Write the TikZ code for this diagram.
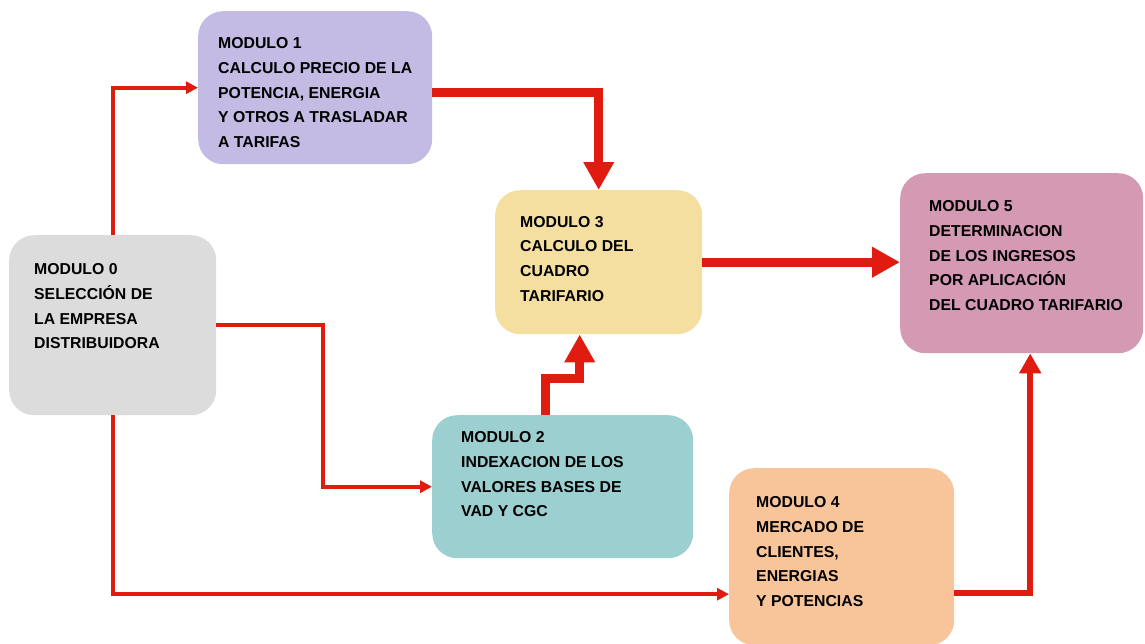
\documentclass[tikz,border=0pt]{standalone}
\usepackage{fontspec}
\setmainfont{Liberation Sans}
\usetikzlibrary{arrows.meta}
\definecolor{lineRed}{RGB}{224,28,16}
\definecolor{cM0}{RGB}{220,220,220}
\definecolor{cM1}{RGB}{195,187,227}
\definecolor{cM2}{RGB}{155,207,208}
\definecolor{cM3}{RGB}{245,223,160}
\definecolor{cM4}{RGB}{248,196,154}
\definecolor{cM5}{RGB}{212,154,179}
\begin{document}
\begin{tikzpicture}[x=1pt,y=-1pt,
  box/.style={rounded corners=25pt, inner sep=0pt, anchor=north west, draw=none},
  txt/.style={anchor=north west, inner sep=0pt, align=left,
              font=\fontsize{15.8}{24.7}\selectfont\bfseries},
  thinarrow/.style={draw=lineRed, line width=4pt, -{Triangle[length=12pt,width=12pt]}},
  thickarrow/.style={draw=lineRed, line width=9pt, -{Triangle[length=28pt,width=29pt]}},
  midarrow/.style={draw=lineRed, line width=6.5pt, -{Triangle[length=20pt,width=21pt]}}]
\useasboundingbox (0,0) rectangle (1145,643);
% boxes
\node[box, fill=cM0, minimum width=207pt, minimum height=180pt] (m0) at (9,235) {};
\node[box, fill=cM1, minimum width=234pt, minimum height=153pt] (m1) at (198,11) {};
\node[box, fill=cM3, minimum width=207pt, minimum height=144pt] (m3) at (495,190) {};
\node[box, fill=cM2, minimum width=261pt, minimum height=143pt] (m2) at (432,415) {};
\node[box, fill=cM4, minimum width=225pt, minimum height=177pt] (m4) at (729,468) {};
\node[box, fill=cM5, minimum width=243pt, minimum height=180pt] (m5) at (900,173) {};
% texts
\node[txt] (t0) at (34,263.4) {MODULO 0\\SELECCIÓN DE\\LA EMPRESA\\DISTRIBUIDORA};
\node[txt] (t1) at (218,37.4) {MODULO 1\\CALCULO PRECIO DE LA\\POTENCIA, ENERGIA\\Y OTROS A TRASLADAR\\A TARIFAS};
\node[txt] (t3) at (520,216) {MODULO 3\\CALCULO DEL\\CUADRO\\TARIFARIO};
\node[txt] (t2) at (461,431.4) {MODULO 2\\INDEXACION DE LOS\\VALORES BASES DE\\VAD Y CGC};
\node[txt] (t4) at (756,496.4) {MODULO 4\\MERCADO DE\\CLIENTES,\\ENERGIAS\\Y POTENCIAS};
\node[txt] (t5) at (929,200.4) {MODULO 5\\DETERMINACION\\DE LOS INGRESOS\\POR APLICACIÓN\\DEL CUADRO TARIFARIO};
% connectors
\draw[thinarrow] (m0.north) |- (m1.west);
\draw[thinarrow] (m0.east) -- ++(107,0) |- (m2.west);
\draw[thinarrow] (m0.south) |- ([yshift=-37.5pt]m4.west);
\draw[thickarrow] ([yshift=-4.5pt]m1.east) -| (m3.north);
\draw[thickarrow] ([xshift=-17.5pt]m2.north) -- ++(0,-37) -| ([xshift=-19pt]m3.south);
\draw[thickarrow] (m3.east) -- (m3.east -| m5.west);
\draw[midarrow] ([yshift=-36.5pt]m4.east) -| ([xshift=8.5pt]m5.south);
\end{tikzpicture}
\end{document}
